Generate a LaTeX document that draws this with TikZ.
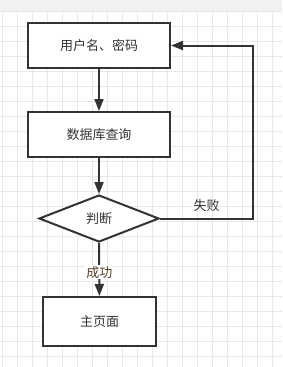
\documentclass[tikz,border=0pt]{standalone}
\usepackage{fontspec}
\usepackage{xcolor}
\usepackage{tikz}
\usetikzlibrary{positioning,arrows.meta,calc,shapes.geometric}
\newfontfamily\cjk{Noto Sans CJK SC}
\definecolor{inkgray}{RGB}{51,51,51}
\definecolor{gridgray}{RGB}{232,232,232}
\definecolor{bandgray}{RGB}{241,241,241}
\definecolor{okbrown}{RGB}{85,62,40}

\begin{document}
\begin{tikzpicture}[x=1pt, y=-1pt,
    every node/.style={font=\cjk\fontsize{13}{15}\selectfont, text=inkgray},
    flowbox/.style={rectangle, draw=inkgray, line width=2pt, fill=white, inner sep=0},
    decide/.style={diamond, draw=inkgray, line width=2pt, fill=white, aspect=2.5, inner sep=0},
    flow/.style={draw=inkgray, line width=2pt, -{Triangle[length=12pt, width=9pt]}}]
    % canvas and grid
    \useasboundingbox (0,0) rectangle (282,367);
    \fill[white] (0,0) rectangle (282,367);
    \fill[bandgray] (0,0) rectangle (282,11);
    \foreach \gx in {2.7,17.7,...,282}
      \draw[gridgray, line width=1pt] (\gx,11) -- (\gx,367);
    \foreach \gy in {11,26,...,367}
      \draw[gridgray, line width=1pt] (0,\gy) -- (282,\gy);
    % steps
    \node[flowbox, minimum width=142pt, minimum height=45pt] (login) at (99,45.5) {用户名、密码};
    \node[flowbox, minimum width=142pt, minimum height=45pt] (query) at (99,134.5) {数据库查询};
    \node[decide, minimum width=120pt, minimum height=47pt] (judge) at (99,218.5) {判断};
    \node[flowbox, minimum width=113pt, minimum height=49pt] (home) at (99.5,321.5) {主页面};
    \coordinate (turn) at (253,218.5);
    % connectors
    \draw[flow] (login) -- (query);
    \draw[flow] (query) -- (judge);
    \draw[flow] (judge) -- node[pos=0.55, fill=white, inner sep=1pt, text=okbrown] {成功} (home);
    \draw[flow] (judge.east) -- node[above=3pt] {失败} (turn) |- (login.east);
\end{tikzpicture}
\end{document}
